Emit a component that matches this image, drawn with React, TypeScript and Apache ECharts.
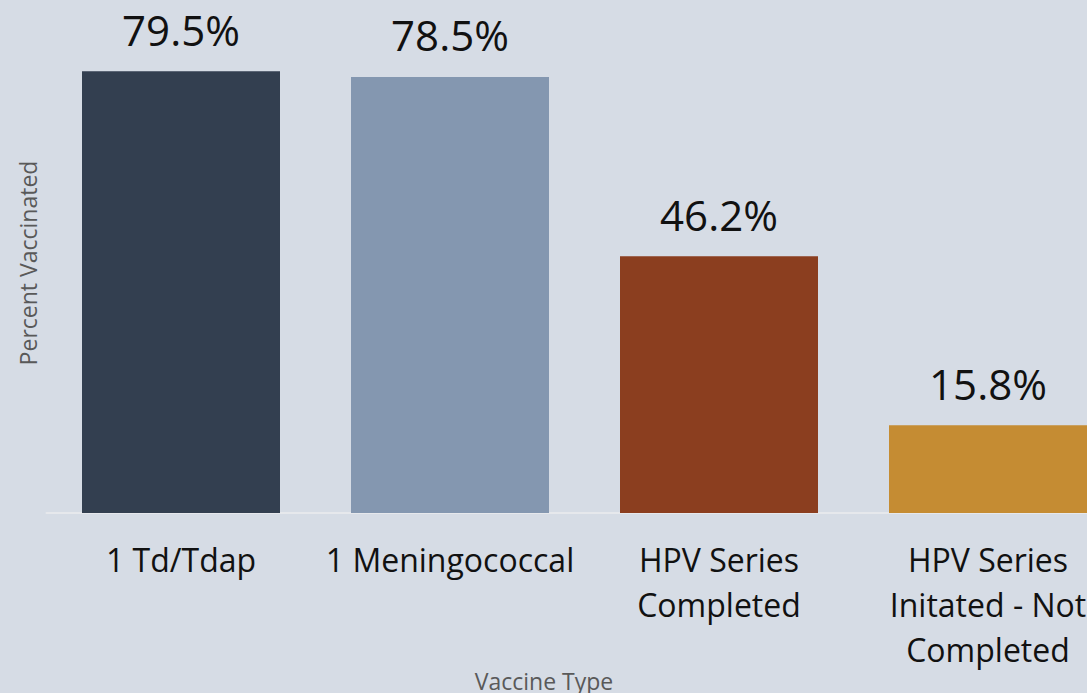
import React, { useEffect, useRef } from "react";
import * as echarts from "echarts";

const categories = [
  "1 Td/Tdap",
  "1 Meningococcal",
  "HPV Series\nCompleted",
  "HPV Series\nInitated - Not\nCompleted",
];
const values = [79.5, 78.5, 46.2, 15.8];
const barColors = ["#333f50", "#8497b0", "#8b3e1f", "#c58c33"];

export default function App() {
  const ref = useRef<HTMLDivElement>(null);
  useEffect(() => {
    if (!ref.current) return;
    const chart = echarts.init(ref.current, null, { renderer: "svg" });
    chart.setOption({
      animation: false,
      backgroundColor: "#d6dce5",
      textStyle: { fontFamily: "Open Sans" },
      grid: { left: 46.5, right: 0.5, top: 13, bottom: 180 },
      xAxis: {
        type: "category",
        data: categories,
        axisLine: { show: true, lineStyle: { color: "#e6e8ec", width: 2 } },
        axisTick: { show: false },
        axisLabel: {
          interval: 0,
          fontSize: 32,
          lineHeight: 45,
          color: "#111111",
          margin: 24,
          fontFamily: "Open Sans",
        },
      },
      yAxis: {
        type: "value",
        min: 0,
        max: 90,
        show: true,
        axisLine: { show: false },
        axisTick: { show: false },
        axisLabel: { show: false },
        splitLine: { show: false },
        name: "Percent Vaccinated",
        nameLocation: "middle",
        nameGap: 7,
        nameTextStyle: { fontSize: 23, color: "#595959", fontFamily: "Open Sans" },
      },
      graphic: [
        {
          type: "text",
          x: 544,
          y: 681,
          style: {
            text: "Vaccine Type",
            fontSize: 23,
            fill: "#595959",
            fontFamily: "Open Sans",
            textAlign: "center",
            textVerticalAlign: "middle",
          },
        },
      ],
      series: [
        {
          type: "bar",
          data: values.map((v, i) => ({ value: v, itemStyle: { color: barColors[i] } })),
          barWidth: 198,
          label: {
            show: true,
            position: "top",
            distance: 21,
            formatter: (p: any) => p.value.toFixed(1) + "%",
            fontSize: 42,
            color: "#111111",
            fontFamily: "Open Sans",
          },
        },
      ],
    });
    return () => chart.dispose();
  }, []);
  return (
    <div
      style={{
        position: "fixed",
        left: 0,
        top: 0,
        width: 1087,
        height: 693,
        overflow: "hidden",
        background: "#d6dce5",
      }}
    >
      <div ref={ref} style={{ width: 1123, height: 693 }} />
    </div>
  );
}
